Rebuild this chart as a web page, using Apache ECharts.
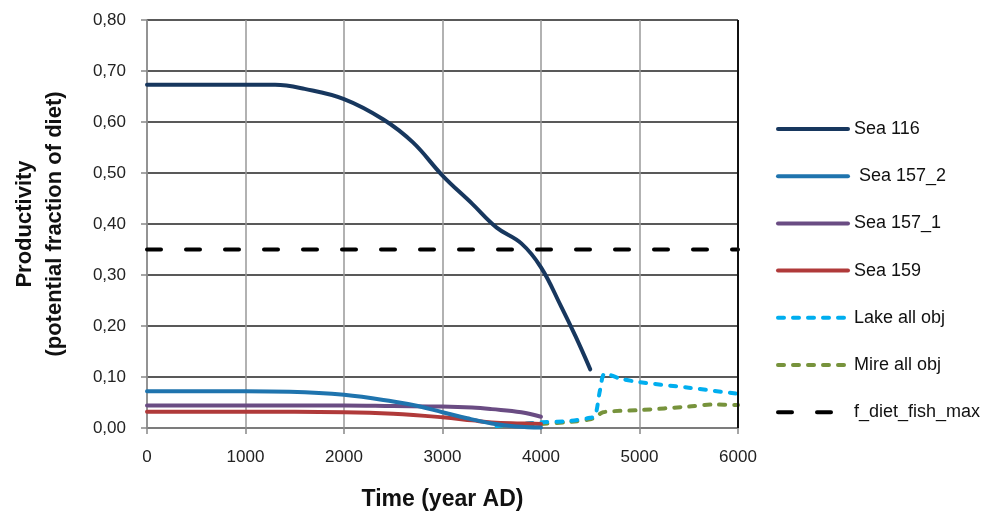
<!DOCTYPE html>
<html>
<head>
<meta charset="utf-8">
<script src="https://cdn.jsdelivr.net/npm/echarts@6/dist/echarts.min.js"></script>
<style>
  html, body { margin: 0; padding: 0; background: #fff; }
  #chart { width: 981px; height: 513px; }
</style>
</head>
<body>
<div id="chart"></div>
<script>
// values
const sea116X = [0, 500, 1000, 1300, 1600, 2000, 2400, 2700, 3000, 3300, 3550, 3800, 4000, 4200, 4350, 4500];
const sea116Y = [0.673, 0.673, 0.673, 0.673, 0.665, 0.645, 0.605, 0.56, 0.495, 0.44, 0.393, 0.362, 0.315, 0.24, 0.18, 0.115];

const sea157_2X = [0, 500, 1000, 1450, 2000, 2500, 2750, 3000, 3250, 3500, 3750, 4000];
const sea157_2Y = [0.072, 0.072, 0.072, 0.071, 0.065, 0.052, 0.043, 0.031, 0.019, 0.009, 0.003, 0.001];

const sea157_1X = [0, 1000, 2000, 2500, 3000, 3300, 3500, 3800, 4000];
const sea157_1Y = [0.044, 0.044, 0.044, 0.043, 0.042, 0.04, 0.037, 0.031, 0.022];

const sea159X = [0, 1000, 2000, 2500, 3000, 3300, 3500, 3800, 4000];
const sea159Y = [0.032, 0.032, 0.031, 0.028, 0.021, 0.015, 0.011, 0.009, 0.008];

const lakeX = [3550, 3800, 4000, 4300, 4500, 4550, 4600, 4650, 4800, 5000, 5500, 6000];
const lakeY = [0.004, 0.008, 0.011, 0.014, 0.02, 0.024, 0.075, 0.107, 0.097, 0.09, 0.079, 0.067];

const mireX = [3550, 3800, 4000, 4300, 4500, 4560, 4630, 5000, 5500, 5750, 6000];
const mireY = [0.004, 0.006, 0.008, 0.012, 0.017, 0.022, 0.031, 0.035, 0.042, 0.046, 0.045];

const fDietX = [0, 6000];
const fDietY = [0.35, 0.35];

const seriesNames = ['Sea 116', ' Sea 157_2', 'Sea 157_1', 'Sea 159', 'Lake all obj', 'Mire all obj', 'f_diet_fish_max'];
const colors = ['#17375E', '#1F74AE', '#6A4C83', '#B03A3A', '#00AEEF', '#77933C', '#000000'];

function pairs(xs, ys) {
  return xs.map((x, i) => [x, ys[i]]);
}

const font = 'Liberation Sans, Arial, sans-serif';

let chart = echarts.init(document.getElementById('chart'));

function lineSeries(i, xs, ys, type, smooth) {
  return {
    name: seriesNames[i],
    type: 'line',
    data: pairs(xs, ys),
    smooth: smooth,
    symbol: 'none',
    z: 10 - i,
    lineStyle: {
      color: colors[i],
      width: 4,
      type: type,
      cap: 'round'
    },
    itemStyle: { color: colors[i] }
  };
}

let option = {
  animation: false,
  backgroundColor: '#fff',
  grid: { left: 147, right: 243, top: 20, bottom: 85, outerBoundsMode: 'none', containLabel: false },
  xAxis: {
    type: 'value',
    min: 0,
    max: 6000,
    interval: 1000,
    name: 'Time (year AD)',
    nameLocation: 'middle',
    nameGap: 60,
    nameTextStyle: { fontFamily: font, fontSize: 23, fontWeight: 'bold', color: '#111' },
    axisLine: { show: true, lineStyle: { color: '#888', width: 1.5 } },
    axisTick: { show: true, length: 6, lineStyle: { color: '#888', width: 1.5 } },
    axisLabel: { fontFamily: font, fontSize: 17, color: '#222', margin: 21, formatter: v => String(v) },
    splitLine: { show: true, lineStyle: { color: '#999', width: 1.5 } }
  },
  yAxis: {
    type: 'value',
    min: 0,
    max: 0.8,
    interval: 0.1,
    name: 'Productivity\n(potential fraction of diet)',
    nameLocation: 'middle',
    nameGap: 77,
    nameTextStyle: { fontFamily: font, fontSize: 22, fontWeight: 'bold', color: '#111', lineHeight: 30 },
    axisLine: { show: true, lineStyle: { color: '#888', width: 1.5 } },
    axisTick: { show: true, length: 6, lineStyle: { color: '#888', width: 1.5 } },
    axisLabel: {
      fontFamily: font, fontSize: 17, color: '#222', margin: 21,
      formatter: v => v.toFixed(2).replace('.', ',')
    },
    splitLine: { show: true, lineStyle: { color: '#222', width: 1.5 } }
  },
  legend: {
    orient: 'vertical',
    left: 776,
    top: 120,
    padding: 0,
    itemWidth: 70,
    itemHeight: 20,
    itemGap: 29.2,
    itemStyle: { opacity: 0 },
    lineStyle: { width: 4 },
    textStyle: { fontFamily: font, fontSize: 18, color: '#111', padding: [0, 0, 0, 1] },
    data: seriesNames
  },
  series: [
    lineSeries(0, sea116X, sea116Y, 'solid', 0.4),
    lineSeries(1, sea157_2X, sea157_2Y, 'solid', 0.4),
    lineSeries(2, sea157_1X, sea157_1Y, 'solid', 0.4),
    lineSeries(3, sea159X, sea159Y, 'solid', 0.4),
    lineSeries(4, lakeX, lakeY, [6, 9], 0.3),
    lineSeries(5, mireX, mireY, [6, 9], 0.3),
    lineSeries(6, fDietX, fDietY, [14, 25], false)
  ],
  graphic: [
    {
      type: 'line',
      shape: { x1: 738, y1: 20, x2: 738, y2: 428 },
      style: { stroke: '#111', lineWidth: 2 },
      silent: true,
      z: 100
    }
  ]
};

option && chart.setOption(option);
</script>
</body>
</html>
